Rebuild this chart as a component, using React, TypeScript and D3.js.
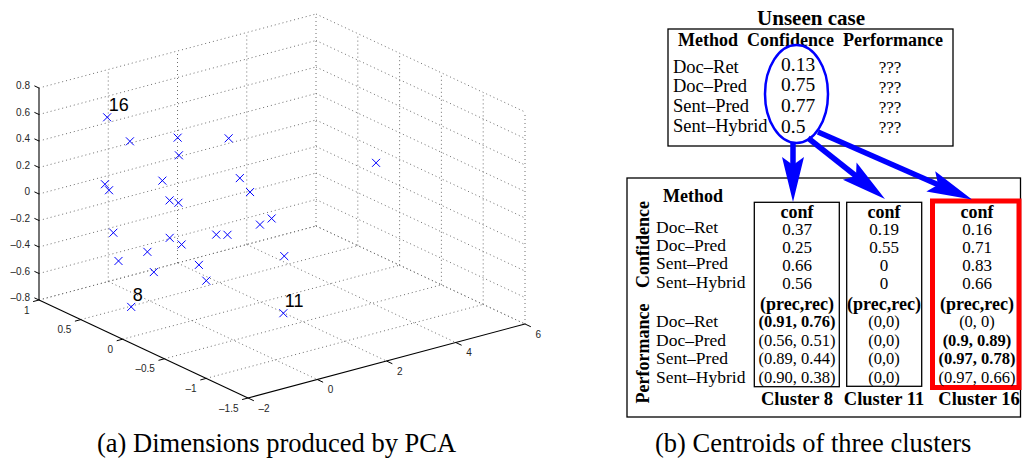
import React from "react";
import * as d3 from "d3";

// ---- (a) PCA scatter: 3 principal dimensions per case ----
const pcaX = [-1.48, -0.34, -0.41, 2.27, -1.34, -0.82, -0.46, -0.61, 2.11, 1.44, -0.16, -0.87, 1.58, 0.76, -1.06, -0.64, 0.67, -0.02, 1.27, -0.56, -0.67, -1.34, -0.28, 1.22, 0.9, -1.51, 0.47, 5.32];
const pcaY = [0.4, 0.6, 0, 0.5, -0.4, 0.7, 0.8, 0.1, 0.3, -0.1, 0.2, -0.2, -0.3, -0.5, 0.5, 0, 0.4, -0.3, 0.1, 0.3, 0.6, -0.1, -0.2, -0.6, 0.2, 0.1, -0.9, 0];
const pcaZ = [0.72, 0.4, 0.61, 0.27, 0.66, 0.08, -0.02, 0.27, 0.04, 0.1, 0.06, 0.21, -0.05, 0.02, -0.21, -0.13, -0.39, -0.06, -0.27, -0.33, -0.48, -0.31, -0.3, -0.22, -0.62, -0.62, -0.51, 0.02];
const pointTags = ["16", "", "", "", "", "", "", "", "", "", "", "", "", "", "", "", "", "", "", "", "", "", "", "", "", "8", "11", ""];

const xTicks = [-2, 0, 2, 4, 6];
const yTicks = [1, 0.5, 0, -0.5, -1, -1.5];
const zTicks = [-0.8, -0.6, -0.4, -0.2, 0, 0.2, 0.4, 0.6, 0.8];

// ---- (b) centroid tables ----
const methods = ["Doc\u2013Ret", "Doc\u2013Pred", "Sent\u2013Pred", "Sent\u2013Hybrid"];
const unseenConf = [0.13, 0.75, 0.77, 0.5];
const clusterNames = ["Cluster 8", "Cluster 11", "Cluster 16"];
const clusterConf = [
  [0.37, 0.25, 0.66, 0.56],
  [0.19, 0.55, 0, 0],
  [0.16, 0.71, 0.83, 0.66],
];
const clusterPerf = [
  ["(0.91, 0.76)", "(0.56, 0.51)", "(0.89, 0.44)", "(0.90, 0.38)"],
  ["(0,0)", "(0,0)", "(0,0)", "(0,0)"],
  ["(0, 0)", "(0.9, 0.89)", "(0.97, 0.78)", "(0.97, 0.66)"],
];
const clusterBold = [
  [true, false, false, false],
  [false, false, false, false],
  [false, true, true, false],
];

const W = 1022;
const H = 459;
const SANS = "'Liberation Sans', Arial, Helvetica, sans-serif";
const SERIF = "'Liberation Serif', 'Times New Roman', serif";
const BLUE = "#0000ff";

const fx = d3.scaleLinear().domain([-2, 6]).range([0, 1]);
const fy = d3.scaleLinear().domain([1, -1.5]).range([0, 1]);
const fz = d3.scaleLinear().domain([-0.8, 0.8]).range([0, 1]);
const origin = [39, 300];
const ax = [277, -74];
const ay = [209, 98];
const az = [0, -212];

const project = (x: number, y: number, z: number): [number, number] => [
  origin[0] + fx(x) * ax[0] + fy(y) * ay[0] + fz(z) * az[0],
  origin[1] + fx(x) * ax[1] + fy(y) * ay[1] + fz(z) * az[1],
];

const fmt = (v: number) => (v < 0 ? "\u2013" : "") + String(+Math.abs(v).toFixed(1));

type Seg = [[number, number], [number, number]];

function seg(a: [number, number, number], b: [number, number, number]): Seg {
  return [project(a[0], a[1], a[2]), project(b[0], b[1], b[2])];
}

const Scatter3D = () => {
  const grid: Seg[] = [];
  // back wall y = 1
  xTicks.filter((x) => x !== -2).forEach((x) => grid.push(seg([x, 1, -0.8], [x, 1, 0.8])));
  zTicks.forEach((z) => grid.push(seg([-2, 1, z], [6, 1, z])));
  // side wall x = 6
  yTicks.filter((y) => y !== 1).forEach((y) => grid.push(seg([6, y, -0.8], [6, y, 0.8])));
  zTicks.forEach((z) => grid.push(seg([6, 1, z], [6, -1.5, z])));
  // floor z = -0.8
  xTicks.filter((x) => x !== -2).forEach((x) => grid.push(seg([x, 1, -0.8], [x, -1.5, -0.8])));
  yTicks.filter((y) => y !== -1.5).forEach((y) => grid.push(seg([-2, y, -0.8], [6, y, -0.8])));

  const axes: Seg[] = [
    seg([-2, 1, -0.8], [-2, 1, 0.8]),
    seg([-2, 1, -0.8], [-2, -1.5, -0.8]),
    seg([-2, -1.5, -0.8], [6, -1.5, -0.8]),
  ];
  const line = (s: Seg) => `M${s[0][0]},${s[0][1]}L${s[1][0]},${s[1][1]}`;

  return (
    <g>
      {grid.map((s, i) => (
        <path key={"g" + i} d={line(s)} stroke="#6e6e6e" strokeWidth={1} strokeDasharray="1 3" fill="none" />
      ))}
      {axes.map((s, i) => (
        <path key={"a" + i} d={line(s)} stroke="#000" strokeWidth={1.1} fill="none" />
      ))}
      {zTicks.map((z) => {
        const p = project(-2, 1, z);
        const q = project(-2, 1.055, z);
        return (
          <g key={"zt" + z}>
            <line x1={p[0]} y1={p[1]} x2={q[0]} y2={q[1]} stroke="#000" />
            <text x={30} y={p[1] + 1} textAnchor="end" fontSize={10} fill="#262626" fontFamily={SANS}>
              {fmt(z)}
            </text>
          </g>
        );
      })}
      {yTicks.map((y) => {
        const p = project(-2, y, -0.8);
        const q = project(-2.17, y, -0.8);
        return (
          <g key={"yt" + y}>
            <line x1={p[0]} y1={p[1]} x2={q[0]} y2={q[1]} stroke="#000" />
            <text x={p[0] - 9.5} y={p[1] + 13.5} textAnchor="end" fontSize={10} fill="#262626" fontFamily={SANS}>
              {fmt(y)}
            </text>
          </g>
        );
      })}
      {xTicks.map((x) => {
        const p = project(x, -1.5, -0.8);
        const q = project(x, -1.57, -0.8);
        return (
          <g key={"xt" + x}>
            <line x1={p[0]} y1={p[1]} x2={q[0]} y2={q[1]} stroke="#000" />
            <text x={p[0] + 10.5} y={p[1] + 13.5} textAnchor="start" fontSize={10} fill="#262626" fontFamily={SANS}>
              {fmt(x)}
            </text>
          </g>
        );
      })}
      {pcaX.map((x, i) => {
        const [px, py] = project(x, pcaY[i], pcaZ[i]);
        const r = 4;
        return (
          <g key={"p" + i}>
            <path d={`M${px - r},${py - r}L${px + r},${py + r}M${px - r},${py + r}L${px + r},${py - r}`} stroke={BLUE} strokeWidth={1} />
            {pointTags[i] && (
              <text x={px + 1.5} y={py - 6} fontSize={18} fontFamily={SANS} fill="#000">
                {pointTags[i]}
              </text>
            )}
          </g>
        );
      })}
    </g>
  );
};

function arrowPath(x1: number, y1: number, x2: number, y2: number) {
  const dx = x2 - x1;
  const dy = y2 - y1;
  const len = Math.hypot(dx, dy);
  const ux = dx / len;
  const uy = dy / len;
  const nx = -uy;
  const ny = ux;
  const L = 45;
  const Wd = 11;
  const notch = 8;
  const bx = x2 - L * ux;
  const by = y2 - L * uy;
  const head = [
    [x2, y2],
    [bx + Wd * nx, by + Wd * ny],
    [x2 - (L - notch) * ux, y2 - (L - notch) * uy],
    [bx - Wd * nx, by - Wd * ny],
  ];
  return {
    shaft: { x1, y1, x2: x2 - (L - notch - 2) * ux, y2: y2 - (L - notch - 2) * uy },
    head: head.map((p) => p.join(",")).join(" "),
  };
}

const Centroids = () => {
  const topRow = d3.scaleLinear().domain([0, 3]).range([72.5, 132]);
  const topVal = d3.scaleLinear().domain([0, 3]).range([70.7, 132.7]);
  const topQ = d3.scaleLinear().domain([0, 3]).range([73, 133]);
  const confRow = d3.scaleLinear().domain([0, 3]).range([233, 287.5]);
  const perfRow = d3.scaleLinear().domain([0, 3]).range([327, 382.5]);
  const colCenter = [797, 884, 977];
  const boxes = [
    [754.3, 202.3, 839.3, 386.7],
    [846.7, 202.3, 921.7, 386.3],
  ];

  const arrows = [
    arrowPath(793, 143, 793, 202),
    arrowPath(808, 138, 885, 199),
    arrowPath(818, 132, 972, 199.5),
  ];

  return (
    <g fontFamily={SERIF} fill="#000">
      {/* unseen case table */}
      <text x={811} y={25} textAnchor="middle" fontWeight="bold" fontSize={21}>Unseen case</text>
      <rect x={668} y={29} width={285} height={117} fill="none" stroke="#000" strokeWidth={1.3} />
      <text x={678} y={45.5} fontWeight="bold" fontSize={18}>Method</text>
      <text x={747} y={45.5} fontWeight="bold" fontSize={18}>Confidence</text>
      <text x={843} y={45.5} fontWeight="bold" fontSize={18}>Performance</text>
      {methods.map((m, i) => (
        <g key={"u" + i}>
          <text x={673} y={topRow(i)} fontSize={18.5}>{m}</text>
          <text x={781} y={topVal(i)} fontSize={19.5}>{String(unseenConf[i])}</text>
          <text x={890} y={topQ(i)} textAnchor="middle" fontSize={17}>???</text>
        </g>
      ))}
      <ellipse cx={796.5} cy={94} rx={31.5} ry={49} fill="none" stroke={BLUE} strokeWidth={2.5} />

      {/* cluster table */}
      <rect x={627} y={178} width={393.5} height={239} fill="none" stroke="#000" strokeWidth={1.3} />
      <text x={663} y={202} fontWeight="bold" fontSize={18}>Method</text>
      <text transform="translate(649,244.5) rotate(-90)" textAnchor="middle" fontWeight="bold" fontSize={18}>Confidence</text>
      <text transform="translate(649,353.5) rotate(-90)" textAnchor="middle" fontWeight="bold" fontSize={18}>Performance</text>
      {methods.map((m, i) => (
        <g key={"m" + i}>
          <text x={656} y={confRow(i)} fontSize={17.5}>{m}</text>
          <text x={656} y={perfRow(i)} fontSize={17.5}>{m}</text>
        </g>
      ))}
      {boxes.map((b, i) => (
        <rect key={"b" + i} x={b[0]} y={b[1]} width={b[2] - b[0]} height={b[3] - b[1]} fill="none" stroke="#000" strokeWidth={1.3} />
      ))}
      <rect x={932.5} y={201} width={86.5} height={186.5} fill="none" stroke="#ff0000" strokeWidth={5} />
      {clusterNames.map((name, c) => (
        <g key={"c" + c}>
          <text x={colCenter[c]} y={217.5} textAnchor="middle" fontWeight="bold" fontSize={18}>conf</text>
          {clusterConf[c].map((v, i) => (
            <text key={"cv" + i} x={colCenter[c]} y={confRow(i) + 1.5} textAnchor="middle" fontSize={17}>
              {String(v)}
            </text>
          ))}
          <text x={colCenter[c]} y={309.5} textAnchor="middle" fontWeight="bold" fontSize={18}>(prec,rec)</text>
          {clusterPerf[c].map((v, i) => (
            <text key={"pv" + i} x={colCenter[c]} y={perfRow(i)} textAnchor="middle" fontSize={16.5} fontWeight={clusterBold[c][i] ? "bold" : "normal"}>
              {v}
            </text>
          ))}
          <text x={colCenter[c] + (c === 2 ? 2 : 0)} y={404.5} textAnchor="middle" fontWeight="bold" fontSize={18.5}>
            {name}
          </text>
        </g>
      ))}
      {arrows.map((a, i) => (
        <g key={"ar" + i}>
          <line x1={a.shaft.x1} y1={a.shaft.y1} x2={a.shaft.x2} y2={a.shaft.y2} stroke={BLUE} strokeWidth={5.5} />
          <polygon points={a.head} fill={BLUE} />
        </g>
      ))}
    </g>
  );
};

export default function App() {
  return (
    <div style={{ position: "absolute", left: 0, top: 0, width: W, height: H, background: "#fff" }}>
      <svg width={W} height={H} viewBox={`0 0 ${W} ${H}`} style={{ display: "block" }}>
        <rect width={W} height={H} fill="#fff" />
        <Scatter3D />
        <Centroids />
        <text x={97} y={452} fontFamily={SERIF} fontSize={26.5}>(a) Dimensions produced by PCA</text>
        <text x={655} y={452} fontFamily={SERIF} fontSize={26.5}>(b) Centroids of three clusters</text>
      </svg>
    </div>
  );
}
